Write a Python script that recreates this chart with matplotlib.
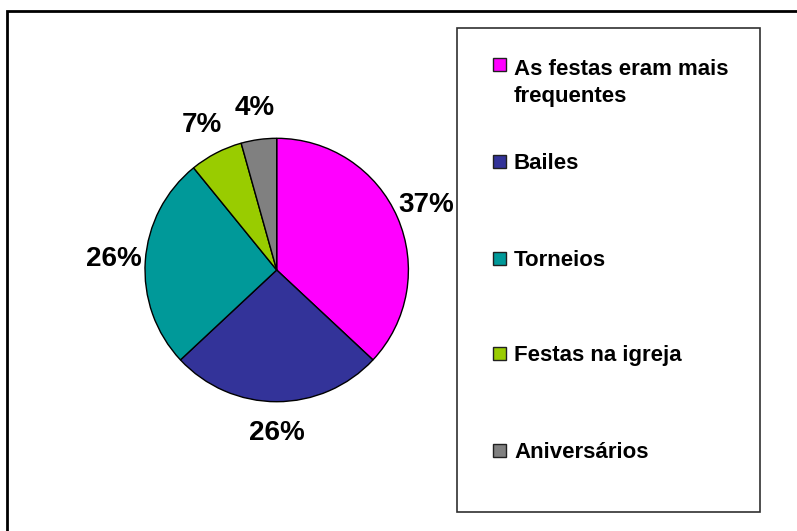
import matplotlib.pyplot as plt
from matplotlib.patches import Rectangle

plt.rcParams['font.family'] = ['Liberation Sans', 'DejaVu Sans']

# dados
categorias = ['As festas eram mais\nfrequentes', 'Bailes', 'Torneios',
              'Festas na igreja', 'Aniversários']
valores = [17, 12, 12, 3, 2]
cores = ['#FF00FF', '#333399', '#009999', '#99CC00', '#808080']

fig = plt.figure(figsize=(7.97, 5.31), dpi=100)
ax = fig.add_axes([0, 0, 1, 1])

# pizza (coordenadas em pixels, y para cima)
ax.pie(valores, colors=cores, startangle=90, counterclock=False,
       center=(276.7, 261), radius=131.7,
       autopct='%.0f%%', pctdistance=1.24,
       wedgeprops=dict(edgecolor='black', linewidth=1),
       textprops=dict(fontsize=20, fontweight='bold', color='black'))

ax.set_xlim(0, 797)
ax.set_ylim(0, 531)
ax.axis('off')

# moldura externa
ax.add_patch(Rectangle((7.5, -20), 820, 540, fill=False, edgecolor='black',
                       linewidth=2, clip_on=False))

# caixa da legenda
ax.add_patch(Rectangle((457, 19), 303, 484, fill=False, edgecolor='#303030',
                       linewidth=1.2))

# itens da legenda
y_itens = [466.5, 370, 273, 178, 81]
for cat, cor, y in zip(categorias, cores, y_itens):
    ax.add_patch(Rectangle((493.5, y - 6.5), 13, 13, facecolor=cor,
                           edgecolor='#202020', linewidth=1))
    if '\n' in cat:
        # va='baseline' alinha pela ultima linha
        ax.text(514, y - 37.5, cat, ha='left', va='baseline', fontsize=16,
                fontweight='bold', linespacing=1.4)
    else:
        ax.text(514, y, cat, ha='left', va='center_baseline', fontsize=16,
                fontweight='bold')

fig.savefig('out.png', dpi=100)
